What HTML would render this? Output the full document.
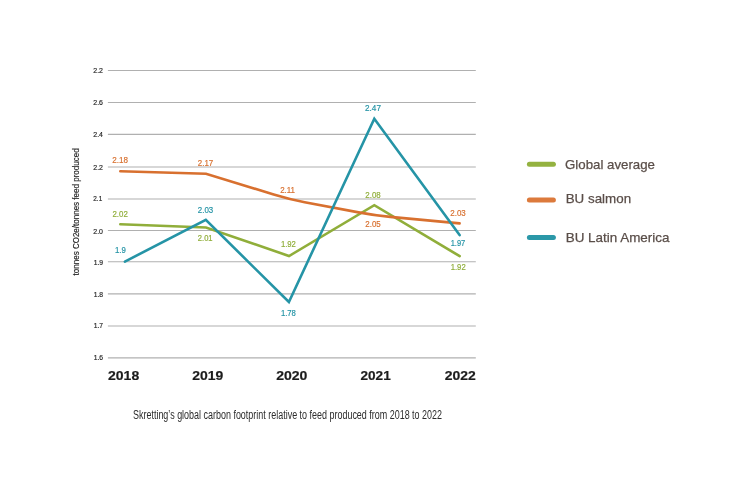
<!DOCTYPE html>
<html lang="en">
<head>
<meta charset="utf-8">
<title>Skretting carbon footprint</title>
<style>
html,body{margin:0;padding:0;background:#fff;}
body{width:746px;height:492px;overflow:hidden;font-family:"Liberation Sans",sans-serif;}
svg{display:block;}
text{font-family:"Liberation Sans",sans-serif;}
.grid line{stroke:#b0b0b0;stroke-width:1.1;}
.ax text{font-size:7.9px;fill:#1e1e1e;stroke:#1e1e1e;stroke-width:0.18;}
.yr text{font-size:13.2px;font-weight:bold;fill:#1c1c1c;stroke:#1c1c1c;stroke-width:0.2;text-anchor:middle;}
.dl text{font-size:9.2px;text-anchor:middle;stroke-width:0.2;}
.g{fill:#90ae3a;stroke:#90ae3a;}
.o{fill:#d8702f;stroke:#d8702f;}
.t{fill:#2594a6;stroke:#2594a6;}
.ln{fill:none;stroke-width:2.6;stroke-linecap:round;stroke-linejoin:miter;stroke-miterlimit:10;}
.leg text{font-size:13.5px;fill:#5a4e49;stroke:#5a4e49;stroke-width:0.25;}
</style>
</head>
<body>
<svg width="746" height="492" viewBox="0 0 746 492">
<rect width="746" height="492" fill="#ffffff"/>
<g class="grid">
<line x1="107.9" x2="475.8" y1="70.5" y2="70.5"/>
<line x1="107.9" x2="475.8" y1="102.55" y2="102.55"/>
<line x1="107.9" x2="475.8" y1="134.4" y2="134.4"/>
<line x1="107.9" x2="475.8" y1="166.95" y2="166.95"/>
<line x1="107.9" x2="475.8" y1="199.0" y2="199.0"/>
<line x1="107.9" x2="475.8" y1="230.45" y2="230.45"/>
<line x1="107.9" x2="475.8" y1="261.8" y2="261.8"/>
<line x1="107.9" x2="475.8" y1="293.85" y2="293.85"/>
<line x1="107.9" x2="475.8" y1="325.95" y2="325.95"/>
<line x1="107.9" x2="475.8" y1="357.9" y2="357.9"/>
</g>
<g class="ax">
<text x="93.3" y="73.20" textLength="9.7" lengthAdjust="spacingAndGlyphs">2.2</text>
<text x="93.3" y="105.25" textLength="9.7" lengthAdjust="spacingAndGlyphs">2.6</text>
<text x="93.3" y="137.10" textLength="9.7" lengthAdjust="spacingAndGlyphs">2.4</text>
<text x="93.3" y="169.65" textLength="9.7" lengthAdjust="spacingAndGlyphs">2.2</text>
<text x="93.3" y="201.20" textLength="8.9" lengthAdjust="spacingAndGlyphs">2.1</text>
<text x="93.3" y="233.75" textLength="9.7" lengthAdjust="spacingAndGlyphs">2.0</text>
<text x="93.7" y="264.50" textLength="9.4" lengthAdjust="spacingAndGlyphs">1.9</text>
<text x="93.7" y="296.55" textLength="9.4" lengthAdjust="spacingAndGlyphs">1.8</text>
<text x="93.7" y="328.35" textLength="9.4" lengthAdjust="spacingAndGlyphs">1.7</text>
<text x="93.7" y="360.30" textLength="9.4" lengthAdjust="spacingAndGlyphs">1.6</text>
</g>
<text transform="translate(79.3 275.4) rotate(-90)" font-size="8.3" fill="#1e1e1e" stroke="#1e1e1e" stroke-width="0.15" textLength="127" lengthAdjust="spacingAndGlyphs">tonnes CO2e/tonnes feed produced</text>
<polyline class="ln" stroke="#90ae3a" points="120.3,224.3 206,227.5 289,256 374.3,205.2 459.7,256.2"/>
<path class="ln" stroke="#d8702f" stroke-linejoin="round" d="M120.3,171.2 L206,173.7 L273.7,194.5 Q289,199.2 304.7,202.2 L358.6,212.4 Q374.3,215.4 390.2,216.9 L459.6,223.4"/>
<polyline class="ln" stroke="#2594a6" points="124.9,261.6 205.8,219.8 288.9,302 374.3,118.7 459.6,235.1"/>
<g class="dl">
<text class="o" x="120.2" y="162.5" textLength="15.7" lengthAdjust="spacingAndGlyphs">2.18</text>
<text class="o" x="205.5" y="165.5" textLength="15.4" lengthAdjust="spacingAndGlyphs">2.17</text>
<text class="o" x="287.6" y="192.5" textLength="14.9" lengthAdjust="spacingAndGlyphs">2.11</text>
<text class="o" x="373" y="226.5" textLength="15.4" lengthAdjust="spacingAndGlyphs">2.05</text>
<text class="o" x="458" y="215.7" textLength="15.5" lengthAdjust="spacingAndGlyphs">2.03</text>
<text class="g" x="120.1" y="216.6" textLength="15.4" lengthAdjust="spacingAndGlyphs">2.02</text>
<text class="g" x="205.2" y="240.7" textLength="14.8" lengthAdjust="spacingAndGlyphs">2.01</text>
<text class="g" x="288.4" y="247.3" textLength="15.0" lengthAdjust="spacingAndGlyphs">1.92</text>
<text class="g" x="373" y="197.7" textLength="15.4" lengthAdjust="spacingAndGlyphs">2.08</text>
<text class="g" x="458.2" y="270.4" textLength="15.0" lengthAdjust="spacingAndGlyphs">1.92</text>
<text class="t" x="120.4" y="252.6" textLength="10.9" lengthAdjust="spacingAndGlyphs">1.9</text>
<text class="t" x="205.5" y="213.1" textLength="15.4" lengthAdjust="spacingAndGlyphs">2.03</text>
<text class="t" x="288.4" y="316.1" textLength="15.0" lengthAdjust="spacingAndGlyphs">1.78</text>
<text class="t" x="373" y="110.7" textLength="15.9" lengthAdjust="spacingAndGlyphs">2.47</text>
<text class="t" x="458" y="246.3" textLength="14.6" lengthAdjust="spacingAndGlyphs">1.97</text>
</g>
<g class="yr">
<text x="123.6" y="380" textLength="31.2" lengthAdjust="spacingAndGlyphs">2018</text>
<text x="207.7" y="380" textLength="31.0" lengthAdjust="spacingAndGlyphs">2019</text>
<text x="291.8" y="380" textLength="31.2" lengthAdjust="spacingAndGlyphs">2020</text>
<text x="375.6" y="380" textLength="30.2" lengthAdjust="spacingAndGlyphs">2021</text>
<text x="460.3" y="380" textLength="31.0" lengthAdjust="spacingAndGlyphs">2022</text>
</g>
<text x="133" y="418.6" font-size="12" fill="#2b2b2b" textLength="309" lengthAdjust="spacingAndGlyphs">Skretting’s global carbon footprint relative to feed produced from 2018 to 2022</text>
<g class="leg">
<line x1="529.4" x2="553.4" y1="164.3" y2="164.3" stroke="#94b240" stroke-width="5" stroke-linecap="round"/>
<line x1="529.4" x2="553.4" y1="200" y2="200" stroke="#dc7a3c" stroke-width="5" stroke-linecap="round"/>
<line x1="529.4" x2="553.4" y1="237.5" y2="237.5" stroke="#2b98a8" stroke-width="5" stroke-linecap="round"/>
<text x="565" y="169.3" textLength="90" lengthAdjust="spacingAndGlyphs">Global average</text>
<text x="565.7" y="203.4" textLength="65.4" lengthAdjust="spacingAndGlyphs">BU salmon</text>
<text x="565.7" y="242.2" textLength="103.8" lengthAdjust="spacingAndGlyphs">BU Latin America</text>
</g>
</svg>
</body>
</html>
